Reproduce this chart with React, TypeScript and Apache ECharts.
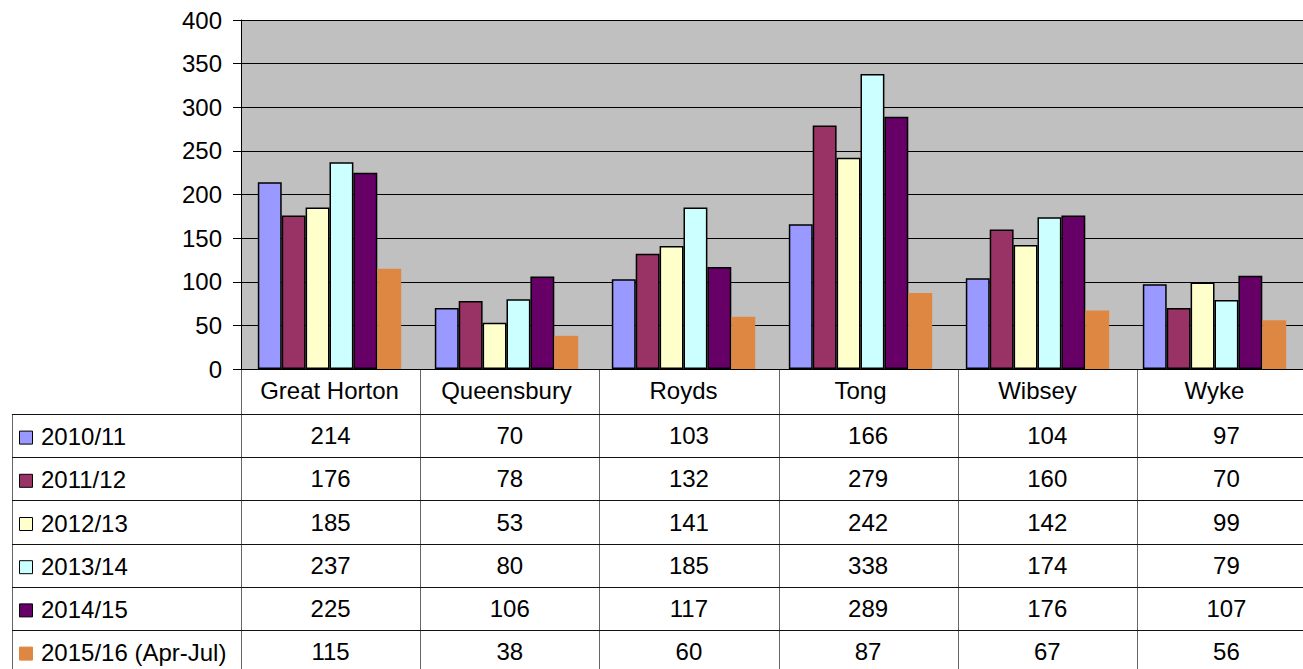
import React, { useEffect, useRef } from 'react';
import * as echarts from 'echarts';

const categories = ['Great Horton', 'Queensbury', 'Royds', 'Tong', 'Wibsey', 'Wyke'];
const seriesNames = ['2010/11', '2011/12', '2012/13', '2013/14', '2014/15', '2015/16 (Apr-Jul)'];
const values2010 = [214, 70, 103, 166, 104, 97];
const values2011 = [176, 78, 132, 279, 160, 70];
const values2012 = [185, 53, 141, 242, 142, 99];
const values2013 = [237, 80, 185, 338, 174, 79];
const values2014 = [225, 106, 117, 289, 176, 107];
const values2015 = [115, 38, 60, 87, 67, 56];
const yMin = 0;
const yMax = 400;
const yInterval = 50;

const seriesValues = [values2010, values2011, values2012, values2013, values2014, values2015];
const colors = ['#9999FF', '#993366', '#FFFFCC', '#CCFFFF', '#660066', '#DE8742'];
const bordered = [true, true, true, true, true, false];

const W = 1303;
const H = 669;
const GRID_LEFT = 241;
const GRID_RIGHT = 1316;
const GRID_TOP = 20;
const AXIS_Y = 369;
const TABLE_TOP = 414;
const ROW_H = 43.2;
const TABLE_LEFT = 12;
const FONT = '"Liberation Sans", Arial, sans-serif';
const FS = 24;

export default function App() {
  const ref = useRef<HTMLDivElement>(null);
  useEffect(() => {
    if (!ref.current) return;
    const chart = echarts.init(ref.current, null, { renderer: 'svg' });
    const catW = (GRID_RIGHT - GRID_LEFT) / categories.length;
    const graphics: any[] = [];
    for (let i = 0; i < categories.length; i++) {
      const x = Math.round(GRID_LEFT + i * catW) + 0.5;
      graphics.push({
        type: 'line',
        shape: { x1: x, y1: AXIS_Y, x2: x, y2: H },
        style: { stroke: '#666', lineWidth: 1 },
      });
    }
    graphics.push({
      type: 'line',
      shape: { x1: TABLE_LEFT + 0.5, y1: TABLE_TOP, x2: TABLE_LEFT + 0.5, y2: H },
      style: { stroke: '#666', lineWidth: 1 },
    });
    for (let k = 0; k < seriesNames.length; k++) {
      const y = Math.round(TABLE_TOP + k * ROW_H) + 0.5;
      graphics.push({
        type: 'line',
        shape: { x1: TABLE_LEFT, y1: y, x2: W, y2: y },
        style: { stroke: '#111', lineWidth: 1 },
      });
    }
    seriesNames.forEach((name, k) => {
      const cy = TABLE_TOP + k * ROW_H + ROW_H / 2 + 1;
      graphics.push({
        type: 'rect',
        shape: { x: 19.5, y: cy - 5.5, width: 13, height: 13 },
        style: {
          fill: colors[k],
          stroke: bordered[k] ? '#000' : colors[k],
          lineWidth: 1,
        },
      });
      graphics.push({
        type: 'text',
        x: 41,
        y: cy,
        style: {
          text: name,
          fontSize: FS,
          fontFamily: FONT,
          fill: '#000',
          align: 'left',
          verticalAlign: 'middle',
        },
      });
      seriesValues[k].forEach((v, i) => {
        graphics.push({
          type: 'text',
          x: GRID_LEFT + i * catW + catW / 2,
          y: cy - 1,
          style: {
            text: String(v),
            fontSize: FS,
            fontFamily: FONT,
            fill: '#000',
            align: 'center',
            verticalAlign: 'middle',
          },
        });
      });
    });

    chart.setOption({
      animation: false,
      backgroundColor: '#fff',
      textStyle: { fontFamily: FONT },
      grid: {
        left: GRID_LEFT,
        right: W - GRID_RIGHT,
        top: GRID_TOP,
        bottom: H - AXIS_Y,
        show: true,
        backgroundColor: '#C0C0C0',
        borderWidth: 0,
        containLabel: false,
      },
      xAxis: {
        type: 'category',
        data: categories,
        axisLine: { show: true, lineStyle: { color: '#000', width: 1 } },
        axisTick: { show: false },
        axisLabel: { color: '#000', fontSize: FS, fontFamily: FONT, margin: 9, interval: 0 },
        splitLine: { show: false },
      },
      yAxis: {
        type: 'value',
        min: yMin,
        max: yMax,
        interval: yInterval,
        axisLine: { show: true, lineStyle: { color: '#000', width: 1 } },
        axisTick: { show: true, length: 8, lineStyle: { color: '#000' } },
        axisLabel: { color: '#000', fontSize: FS, fontFamily: FONT, margin: 19 },
        splitLine: { show: true, lineStyle: { color: '#000', width: 1 } },
      },
      series: seriesNames.map((name, k) => ({
        type: 'bar',
        name,
        data: seriesValues[k],
        barGap: '0%',
        barCategoryGap: '19%',
        itemStyle: {
          color: colors[k],
          borderColor: bordered[k] ? '#000' : colors[k],
          borderWidth: bordered[k] ? 1.5 : 0,
        },
      })),
      graphic: { elements: graphics },
    });
    return () => chart.dispose();
  }, []);
  return (
    <div
      ref={ref}
      style={{ position: 'fixed', left: 0, top: 0, width: W, height: H, overflow: 'hidden' }}
    />
  );
}
